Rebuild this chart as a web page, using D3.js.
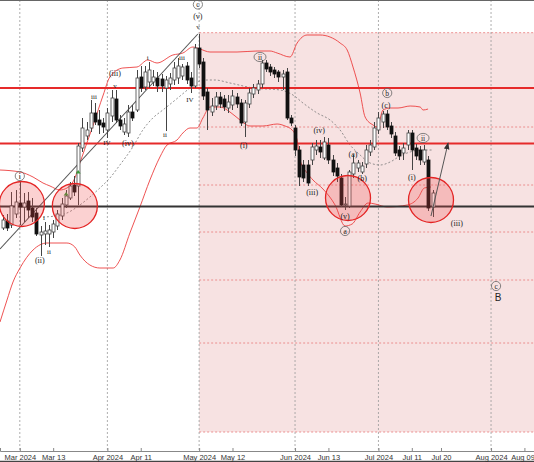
<!DOCTYPE html>
<html><head><meta charset="utf-8">
<script src="https://cdn.jsdelivr.net/npm/d3@7"></script>
<style>body{margin:0;background:#fff}svg{display:block}</style>
</head><body><svg id="c" width="534" height="462"></svg>
<script>
// ---- data (price units arbitrary) ----
const firstIndex = -4; // trading-day index of the first candle (Mar 1 2024 = 0)
const opens = [27.2,27.9,27.5,28.6,29.7,29.3,29.9,29.2,28.7,26.5,
 26.6,26.6,26.8,27.4,28.4,29.5,30.2,31.5,31.4,35.2,
 36.4,37.2,38.7,38.0,37.7,37.0,38.4,40.1,38.0,36.8,
 36.7,38.8,39.0,42.3,41.3,41.8,41.8,42.2,42.1,41.2,
 41.6,42.0,42.2,42.4,43.4,42.2,41.4,45.2,43.8,40.8,
 38.8,39.4,40.3,40.1,39.2,39.5,40.3,39.7,37.8,39.6,
 40.6,41.0,41.6,43.7,43.3,43.0,42.8,42.3,42.8,38.2,
 37.2,35.0,33.5,33.5,34.0,35.0,35.3,34.2,35.5,34.0,
 33.2,32.2,29.5,29.4,32.6,33.2,32.8,33.6,34.8,35.3,
 37.0,37.8,38.6,37.4,36.4,35.0,34.7,35.5,36.7,35.2,
 35.0,33.8,34.0,29.3];
const closes = [28.0,27.2,29.4,29.8,29.3,29.7,29.0,28.3,26.6,26.8,
 26.9,27.0,27.6,28.6,29.6,30.4,31.4,30.8,35.4,37.2,
 37.0,38.7,37.8,37.5,37.3,38.7,40.2,38.0,37.4,37.6,
 38.8,38.2,42.2,41.2,42.8,43.0,42.3,41.4,41.4,42.0,
 42.2,43.2,43.4,43.3,42.0,41.4,45.2,43.6,40.4,39.0,
 39.4,40.3,39.6,39.3,39.8,40.4,39.6,37.7,39.7,40.7,
 41.2,41.6,43.7,43.1,42.8,42.6,42.3,42.6,38.2,37.7,
 35.0,32.3,32.2,31.7,35.3,35.4,34.8,35.8,34.0,32.8,
 32.4,29.5,29.6,32.8,33.7,33.7,33.4,35.0,35.5,37.2,
 38.2,38.6,37.3,36.6,34.7,34.4,35.2,36.7,35.0,34.4,
 34.0,35.0,29.2,30.7];
const highs = [28.5,28.6,30.8,31.0,31.9,30.7,30.8,30.2,29.2,27.4,
 27.8,27.5,28.0,29.0,30.2,31.0,31.8,32.4,35.7,38.2,
 37.8,40.0,39.7,39.0,38.2,39.2,41.0,41.0,38.5,38.2,
 39.5,39.5,43.0,43.4,43.4,43.8,43.0,42.8,42.6,42.4,
 42.7,43.8,44.2,43.6,43.8,42.8,45.6,46.6,44.2,41.2,
 40.2,40.8,40.8,40.5,40.5,41.0,40.7,40.1,40.0,41.2,
 41.6,42.0,44.0,44.0,43.6,43.3,43.0,43.0,43.2,38.5,
 37.5,35.4,34.0,34.0,35.7,36.0,36.0,36.3,36.2,34.5,
 33.7,32.6,30.3,33.0,34.5,34.0,33.8,35.5,36.0,37.8,
 38.8,38.9,39.0,37.8,36.8,35.4,35.7,37.0,37.0,35.6,
 35.4,35.5,34.4,31.0];
const lows = [27.0,26.9,27.2,28.2,27.5,27.8,28.2,27.8,26.4,24.4,
 25.5,25.3,26.2,27.0,28.0,29.2,30.0,30.4,29.5,34.8,
 36.0,36.8,37.5,36.6,36.7,36.2,37.8,37.7,37.0,36.5,
 36.3,37.9,38.8,40.8,41.0,41.2,41.4,40.8,40.8,36.9,
 41.0,41.5,41.6,42.0,41.6,40.7,41.2,43.2,40.0,37.0,
 38.4,39.0,39.2,38.9,38.7,39.0,39.2,37.4,36.3,39.2,
 40.2,40.6,41.2,42.8,42.4,42.2,41.8,41.0,38.0,37.4,
 34.4,31.4,31.8,31.4,33.5,34.5,34.2,34.0,33.6,32.4,
 31.8,29.3,29.0,29.2,32.2,32.8,32.6,33.2,34.4,35.0,
 36.6,37.2,37.0,36.2,34.4,34.0,34.0,35.0,33.0,34.0,
 33.5,33.5,28.9,28.3];

// Bollinger bands: [index, price]
const upperBand = [[-4.75,33.0],[0.05,32.8],[3.17,32.3],[5.56,31.7],[7.24,31.4],[9.64,31.0],[11.3,31.2],[13.2,32.2],[14.4,33.7],[17.6,37.5],[20.0,40.5],[21.6,42.3],[24.7,43.2],[28.1,43.3],[30.7,44.0],[32.9,43.7],[36.7,44.5],[39.1,44.7],[41.5,45.3],[43.2,45.1],[45.6,44.8],[52.1,44.8],[56.9,44.9],[60.0,44.9],[61.7,44.7],[64.8,44.3],[66.5,45.7],[68.9,46.5],[72.0,46.5],[74.4,46.3],[76.8,45.7],[78.5,45.0],[79.9,43.3],[81.6,40.7],[82.8,38.3],[84.7,37.5],[85.7,37.3],[87.1,39.0],[88.8,39.2],[90.7,39.2],[93.6,39.4],[96.0,39.3],[96.7,39.0],[97.9,39.1]];
const lowerBand = [[-4.75,17.8],[-3.07,20.0],[-1.63,21.8],[0.05,23.2],[3.17,25.0],[6.52,25.7],[11.3,25.7],[13.2,25.3],[14.4,24.5],[16.8,23.5],[19.2,23.2],[22.4,23.2],[24.0,24.0],[26.4,26.7],[28.8,29.3],[31.2,32.0],[33.6,34.3],[35.3,35.5],[37.7,36.0],[39.1,36.7],[40.8,37.2],[42.5,37.2],[43.9,38.2],[45.6,39.3],[48.0,39.3],[50.4,38.8],[52.8,38.0],[55.2,37.4],[58.3,37.4],[61.7,37.6],[63.6,37.4],[65.3,37.0],[66.5,36.0],[67.2,34.0],[68.9,32.7],[70.3,32.0],[72.7,31.1],[75.6,29.5],[78.0,27.4],[79.7,27.6],[81.6,28.8],[83.5,29.7],[85.2,29.6],[88.1,29.3],[92.9,29.5],[95.5,30.2],[97.0,31.2],[98.6,31.3]];
const midBand = [[5.56,28.3],[8.44,28.4],[11.3,28.7],[14.4,29.5],[16.8,30.3],[19.2,31.2],[21.6,32.2],[24.0,33.5],[27.1,35.3],[29.5,37.0],[31.9,38.2],[34.3,39.0],[36.7,39.8],[39.6,40.8],[42.0,41.6],[43.9,42.0],[46.8,42.0],[50.4,41.7],[56.0,41.2],[62.4,41.0],[65.5,40.5],[67.9,39.7],[71.3,38.7],[74.4,38.0],[76.8,37.0],[79.2,35.5],[81.6,34.5],[84.0,33.7],[86.4,33.5],[88.8,33.8],[91.2,34.4],[93.6,34.8],[96.0,35.0],[98.8,35.0]];

const tickIdx = [0, 8, 21, 29, 43, 51, 66, 74, 86, 94, 101, 113, 121];
const tickLabels = ["Mar 2024","Mar 13","Apr 2024","Apr 11","May 2024","May 12","Jun 2024","Jun 13","Jul 2024","Jul 11","Jul 20","Aug 2024","Aug 09"];
const gridIdx = [0, 21, 43, 66, 86, 113];

const zoneStart = 43;
const zoneLevels = [46.73, 37.3, 31.5, 26.8, 22.0, 15.7, 6.8];
const redLevels = [41.2, 35.65];
const blackLevels = [29.35];
const trendLine = [[-4.75, 25.1], [42.7, 46.6]];
const projectionArrow = [[98.6, 28.4], [102.7, 35.7]];
const zoneCircles = [[0.5, 29.6], [13.2, 29.4], [78.7, 30.2], [98.6, 30.0]];
const greenMarks = [[11.1, 30.6], [14.0, 32.8]];

// wave labels: index, price, text, kind (p = paren serif, r = roman small, c = circled)
const waveLabels = [
 [42.7,49.55,"c","c"],[42.7,48.4,"(v)","p"],[42.7,47.3,"v","r"],
 [22.8,42.7,"(iii)","p"],[30.7,44.2,"i","r"],[38.9,44.2,"iii","r"],
 [17.8,40.3,"iii","r"],[22.8,41.4,"v","r"],[20.9,35.7,"IV","r"],
 [25.9,35.7,"(iv)","p"],[34.8,36.5,"ii","r"],[40.8,40.0,"IV","r"],
 [53.7,35.5,"(i)","p"],[57.6,44.3,"ii","c"],[71.8,37.0,"(iv)","p"],
 [70.1,30.8,"(iii)","p"],[79.9,34.6,"(a)","p"],[82.1,32.2,"(b)","p"],
 [78.0,28.4,"(v)","p"],[78.0,26.9,"a","c"],[87.8,39.5,"(c)","p"],
 [88.1,40.7,"b","c"],[96.7,36.2,"ii","c"],[94.0,32.3,"(i)","p"],
 [104.8,27.7,"(iii)","p"],[0,32.4,"i","c"],[4.8,24.0,"(ii)","p"],
 [5.8,28.2,"i","r"],[7.0,24.8,"ii","r"],[114.2,21.4,"c","c"]
];
const bigLabels = [[114.7, 20.3, "B"]];

// ---- drawing ----
const W = 534, H = 462, axisY = 451;
const svg = d3.select("#c");
const x = d3.scaleLinear().domain([-4.75, 123.3]).range([0, W]);
const y = d3.scaleLinear().domain([4.9, 50]).range([axisY, 0]);

const plot = svg.append("g");

// projection zone
plot.append("rect")
  .attr("x", x(zoneStart)).attr("y", y(zoneLevels[0]))
  .attr("width", W - x(zoneStart)).attr("height", y(zoneLevels[zoneLevels.length-1]) - y(zoneLevels[0]))
  .attr("fill", "#f7e2e2");
plot.selectAll(".zl").data(zoneLevels).join("line")
  .attr("x1", x(zoneStart)).attr("x2", W)
  .attr("y1", d => y(d)).attr("y2", d => y(d))
  .attr("stroke", "#e87878").attr("stroke-width", 0.8).attr("stroke-dasharray", "2,2");

// vertical grid
plot.selectAll(".grid").data(gridIdx).join("line")
  .attr("x1", d => x(d)).attr("x2", d => x(d))
  .attr("y1", 0).attr("y2", axisY)
  .attr("stroke", "#999").attr("stroke-width", 0.8).attr("stroke-dasharray", "2,2");

// bands
const line = d3.line().x(d => x(d[0])).y(d => y(d[1])).curve(d3.curveMonotoneX);
plot.append("path").attr("d", line(upperBand)).attr("fill", "none").attr("stroke", "#ec4040").attr("stroke-width", 0.9);
plot.append("path").attr("d", line(lowerBand)).attr("fill", "none").attr("stroke", "#ec4040").attr("stroke-width", 0.9);
plot.append("path").attr("d", line(midBand)).attr("fill", "none").attr("stroke", "#777").attr("stroke-width", 0.8).attr("stroke-dasharray", "2,2");

// trend line
plot.append("line")
  .attr("x1", x(trendLine[0][0])).attr("y1", y(trendLine[0][1]))
  .attr("x2", x(trendLine[1][0])).attr("y2", y(trendLine[1][1]))
  .attr("stroke", "#555").attr("stroke-width", 1.1);

// horizontal levels
plot.selectAll(".rl").data(redLevels).join("line")
  .attr("x1", 0).attr("x2", W).attr("y1", d => y(d)).attr("y2", d => y(d))
  .attr("stroke", "#e62a2a").attr("stroke-width", 2.2);
plot.selectAll(".bl").data(blackLevels).join("line")
  .attr("x1", 0).attr("x2", W).attr("y1", d => y(d)).attr("y2", d => y(d))
  .attr("stroke", "#333").attr("stroke-width", 2);

// candles
const candles = opens.map((o, k) => ({i: firstIndex + k, o, c: closes[k], h: Math.max(highs[k], o, closes[k]), l: Math.min(lows[k], o, closes[k])}));
const cg = plot.append("g");
cg.selectAll(".wick").data(candles).join("line")
  .attr("x1", d => Math.round(x(d.i)) + 0.5).attr("x2", d => Math.round(x(d.i)) + 0.5)
  .attr("y1", d => y(d.h)).attr("y2", d => y(d.l))
  .attr("stroke", "#444").attr("stroke-width", 1);
const bw = 3;
cg.selectAll(".body").data(candles).join("rect")
  .attr("x", d => Math.round(x(d.i)) + 0.5 - bw/2)
  .attr("y", d => y(Math.max(d.o, d.c)))
  .attr("width", bw)
  .attr("height", d => Math.max(1, Math.abs(y(d.o) - y(d.c))))
  .attr("fill", d => d.c >= d.o ? "#fff" : "#111")
  .attr("stroke", d => d.c >= d.o ? "#444" : "#111")
  .attr("stroke-width", 0.8);

// green marks
plot.selectAll(".gm").data(greenMarks).join("path")
  .attr("d", d => { const cx = x(d[0]), cy = y(d[1]); return `M${cx-2.5},${cy+1.5}L${cx},${cy-2}L${cx+2.5},${cy+1.5}Z`; })
  .attr("fill", "#3a9a3a");

// circles
plot.selectAll(".zc").data(zoneCircles).join("circle")
  .attr("cx", d => x(d[0])).attr("cy", d => y(d[1])).attr("r", 22.5)
  .attr("fill", "rgba(240,70,70,0.25)").attr("stroke", "#e42424").attr("stroke-width", 1.3);

// projection arrow
const defs = svg.append("defs");
defs.append("marker").attr("id", "ah").attr("viewBox", "0 0 10 10").attr("refX", 9).attr("refY", 5)
  .attr("markerWidth", 7).attr("markerHeight", 7).attr("orient", "auto")
  .append("path").attr("d", "M0,1L10,5L0,9Z").attr("fill", "#333");
plot.append("line")
  .attr("x1", x(projectionArrow[0][0])).attr("y1", y(projectionArrow[0][1]))
  .attr("x2", x(projectionArrow[1][0])).attr("y2", y(projectionArrow[1][1]))
  .attr("stroke", "#555").attr("stroke-width", 1).attr("marker-end", "url(#ah)");

// wave labels
const lg = plot.append("g").attr("font-family", "'Liberation Serif','DejaVu Serif',serif").attr("fill", "#222");
waveLabels.forEach(([i, p, t, k]) => {
  const cx = x(i), cy = y(p);
  if (k === "c") {
    lg.append("ellipse").attr("cx", cx).attr("cy", cy).attr("rx", t.length > 1 ? 6 : 4.6).attr("ry", 4.6)
      .attr("fill", "none").attr("stroke", "#666").attr("stroke-width", 0.8);
    lg.append("text").attr("x", cx).attr("y", cy).attr("text-anchor", "middle")
      .attr("dominant-baseline", "central").attr("font-size", 7.5).text(t);
  } else {
    lg.append("text").attr("x", cx).attr("y", cy).attr("text-anchor", "middle")
      .attr("dominant-baseline", "central").attr("font-size", k === "p" ? 8 : 7).text(t);
  }
});
plot.selectAll(".big").data(bigLabels).join("text")
  .attr("x", d => x(d[0])).attr("y", d => y(d[1])).attr("text-anchor", "middle")
  .attr("dominant-baseline", "central").attr("font-family", "'Liberation Sans',Arial,sans-serif")
  .attr("font-size", 10).attr("fill", "#222").text(d => d[2]);

// borders
svg.append("line").attr("x1", 0).attr("x2", W).attr("y1", 0.5).attr("y2", 0.5).attr("stroke", "#666").attr("stroke-width", 1.2);
svg.append("line").attr("x1", 0).attr("x2", W).attr("y1", H - 0.5).attr("y2", H - 0.5).attr("stroke", "#444").attr("stroke-width", 1.5);

// x axis
const ax = svg.append("g").attr("transform", `translate(0,${axisY})`)
  .call(d3.axisBottom(x).tickValues(tickIdx).tickFormat((d, k) => tickLabels[k]).tickSize(-3).tickPadding(4));
ax.select(".domain").attr("stroke", "#888");
ax.selectAll(".tick line").attr("stroke", "#888");
ax.selectAll("text").attr("font-family", "'Liberation Sans Narrow','Liberation Sans',Arial,sans-serif")
  .attr("font-size", 7.5).attr("fill", "#333");
// keep the last label inside the picture
ax.selectAll("text").filter((d, k, n) => k === n.length - 1).attr("text-anchor", "end").attr("dx", "10px");
</script></body></html>
